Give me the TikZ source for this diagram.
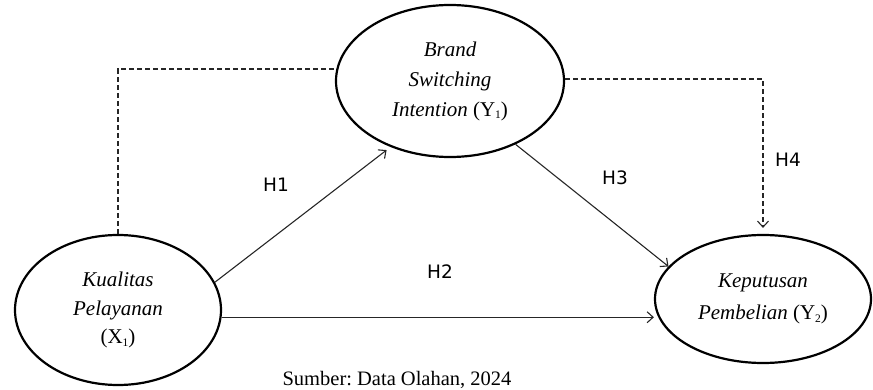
\documentclass[tikz,border=0pt]{standalone}
\usepackage{fontspec}
\setmainfont{Liberation Serif}
\newfontfamily\lblfont{DejaVu Sans}
\usetikzlibrary{arrows.meta,shapes.geometric}
\newcommand{\lowidx}[1]{\raisebox{-2.5pt}{\fontsize{11.5}{11.5}\selectfont #1}}
\frenchspacing
\begin{document}
\begin{tikzpicture}[x=1pt,y=-1pt,
  construct/.style={ellipse,draw,line width=2.2pt,inner sep=0pt,align=center,font=\fontsize{21}{30}\selectfont\itshape},
  tipv/.style={-{Straight Barb[length=6pt,width=11pt,line width=1.1pt]}},
  link/.style={line width=1.1pt,draw=black!85,tipv},
  dashlink/.style={line width=1.1pt,dash pattern=on 5pt off 3pt,draw=black!85},
  hyp/.style={font=\lblfont\fontsize{18.5}{20}\selectfont,inner sep=0pt}]
\useasboundingbox (0,0) rectangle (873,390);
\node[construct, minimum width=228pt, minimum height=152pt] (bsi) at (450,81)
  {Brand\\Switching\\Intention {\upshape(Y\lowidx{1})}};
\node[construct, minimum width=206pt, minimum height=150pt, font=\fontsize{21}{28.5}\selectfont\itshape] (kp) at (118,310)
  {Kualitas\\Pelayanan\\{\upshape(X\lowidx{1})}};
\node[construct, minimum width=216pt, minimum height=128pt, font=\fontsize{21}{32}\selectfont\itshape] (kd) at (763,299)
  {Keputusan\\Pembelian {\upshape(Y\lowidx{2})}};
\draw[link, shorten >=5pt] (kp.16) -- (bsi.228);
\draw[link] (kp.-4.5) -- (kp.-4.5 -| kd.west);
\draw[link] (bsi.-44) -- (kd.161);
\draw[dashlink] (kp.north) |- (bsi.174.4);
\draw[dashlink, tipv, shorten >=6pt] (bsi.1) -| (kd.north);
\node[hyp] (h1) at (276,185) {H1};
\node[hyp] (h2) at (440,272) {H2};
\node[hyp] (h3) at (615,178) {H3};
\node[hyp] (h4) at (788,160) {H4};
\node[font=\fontsize{20.5}{22}\selectfont, anchor=base, inner sep=0pt] (src) at (397,385) {Sumber: Data Olahan, 2024};
\end{tikzpicture}
\end{document}
